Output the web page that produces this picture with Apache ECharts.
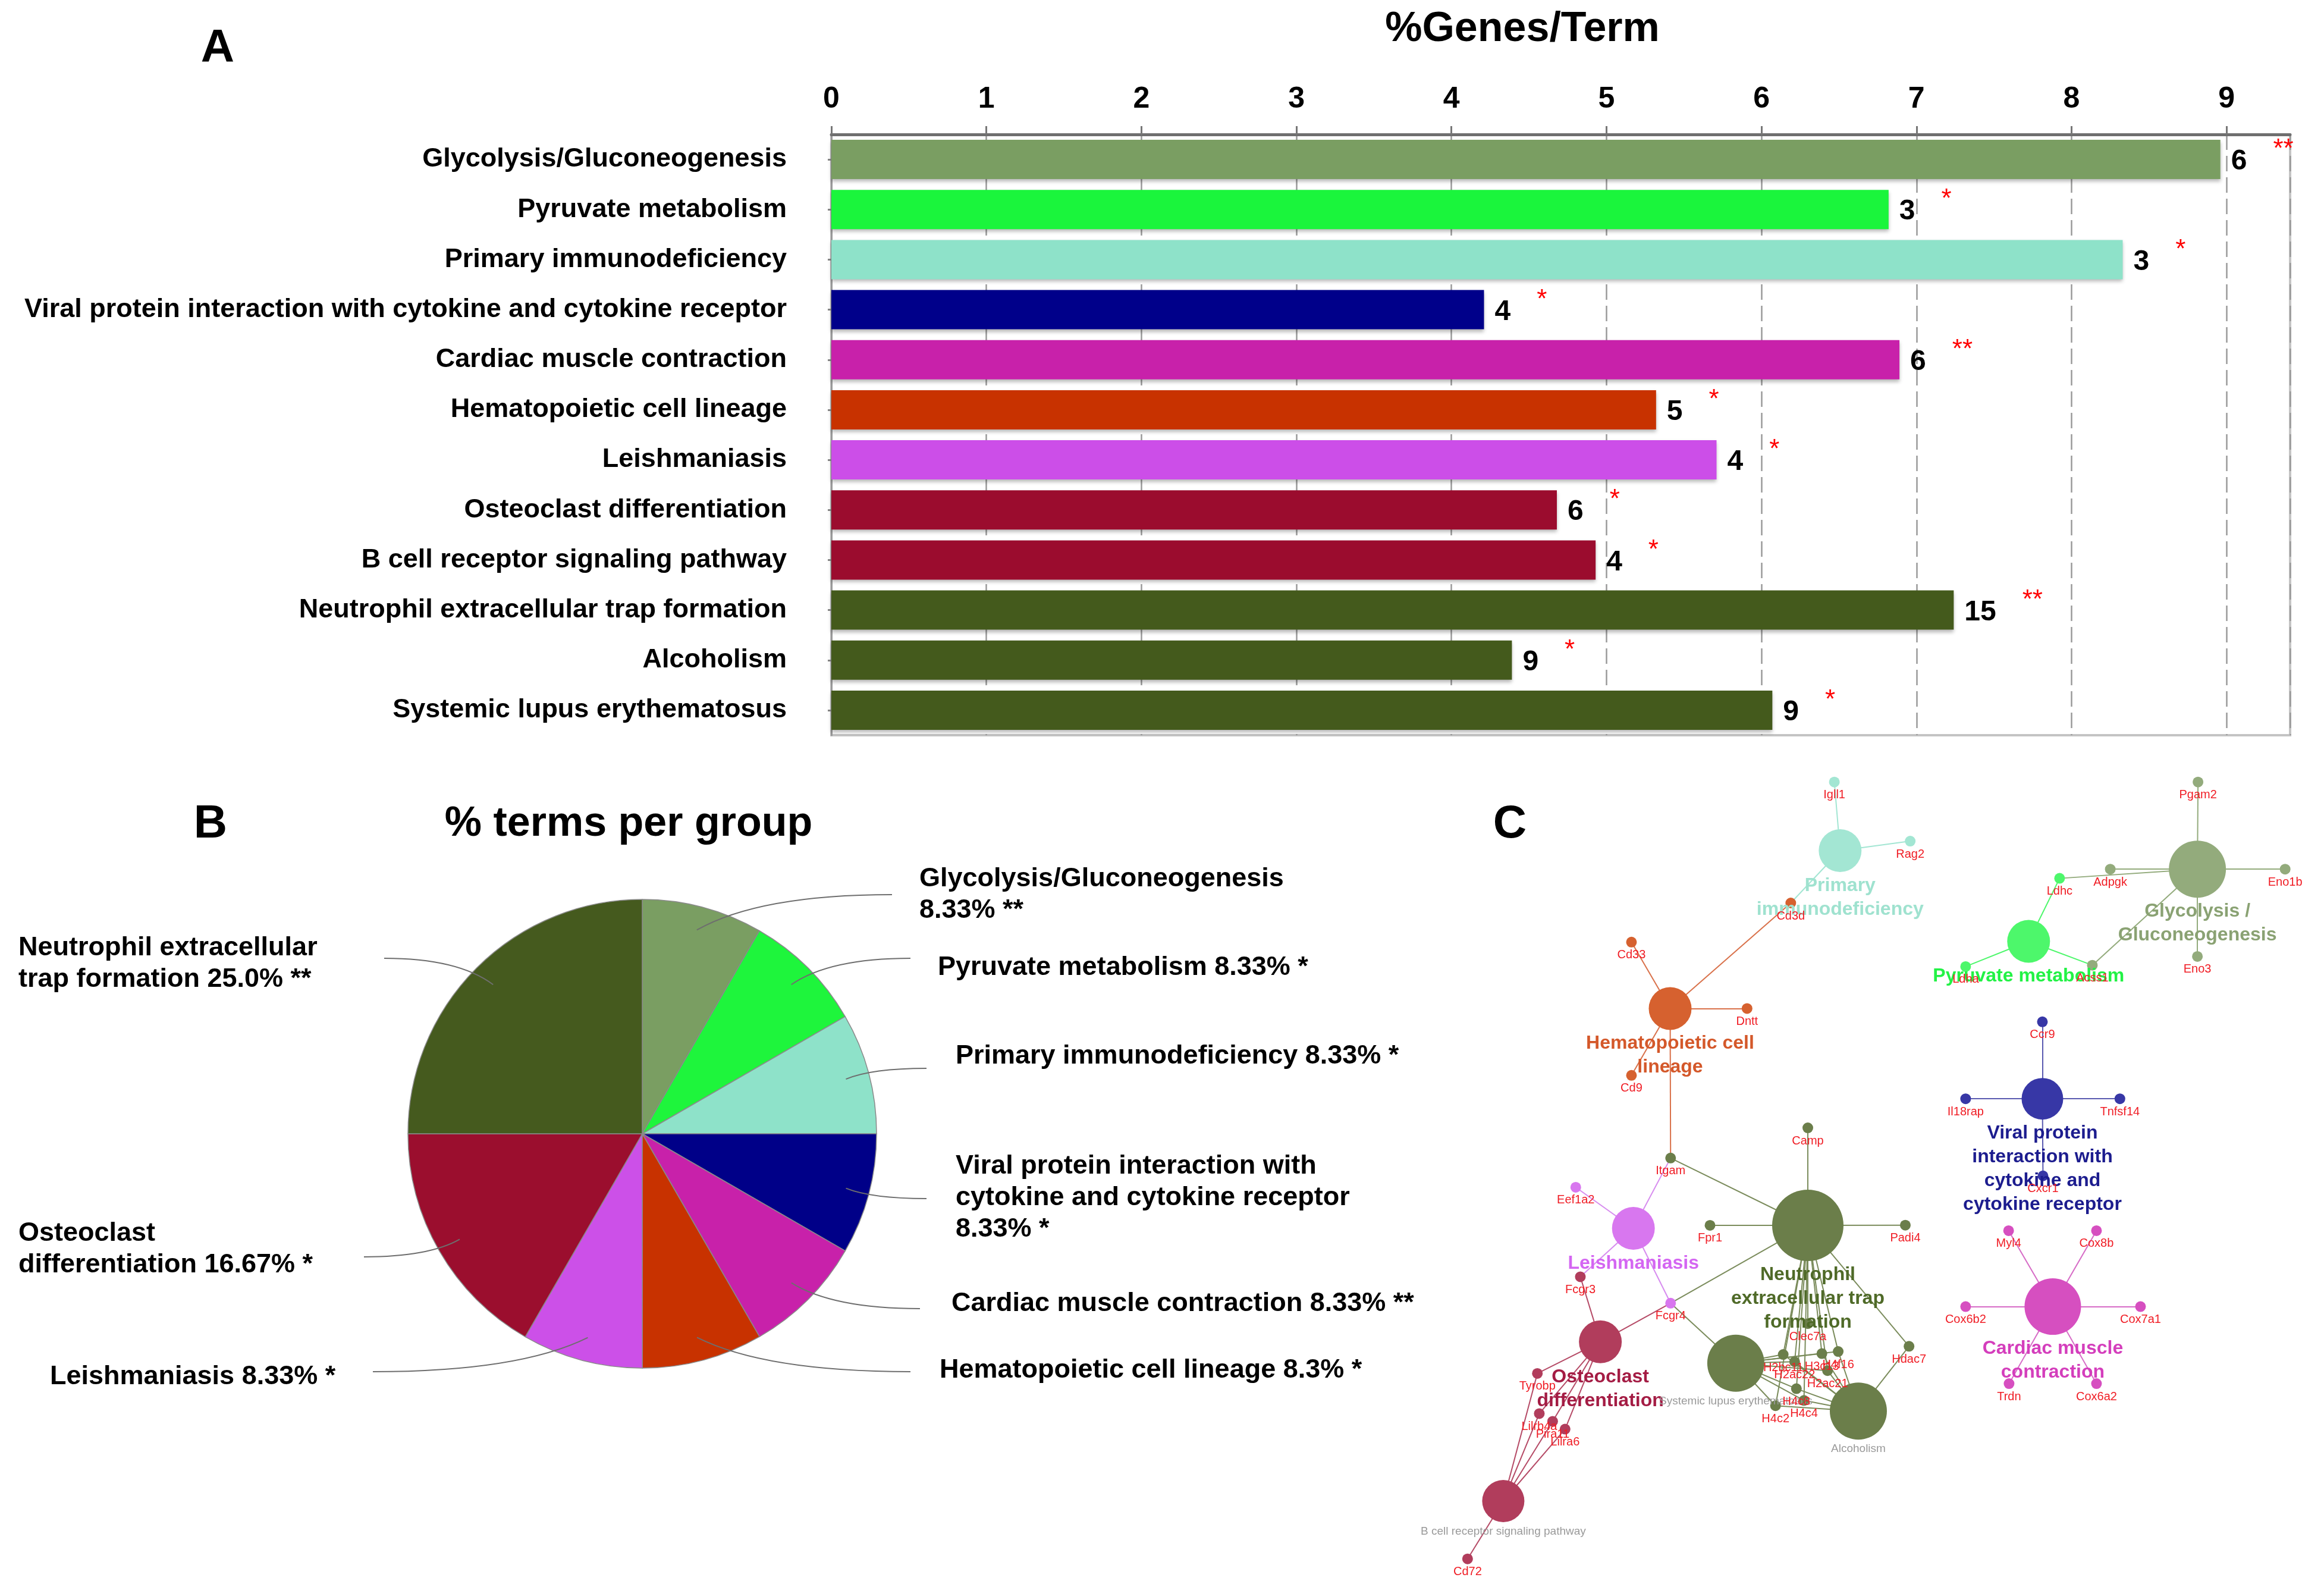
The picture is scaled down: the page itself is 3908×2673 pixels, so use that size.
<!DOCTYPE html>
<html><head><meta charset="utf-8">
<script src="https://cdn.jsdelivr.net/npm/echarts@6/dist/echarts.min.js"></script>
<style>html,body{margin:0;padding:0;background:#fff}#c{width:3908px;height:2673px}</style>
</head><body><div id="c"></div>
<script>
// ---------- Panel A data ----------
const termNames = ['Glycolysis/Gluconeogenesis','Pyruvate metabolism','Primary immunodeficiency','Viral protein interaction with cytokine and cytokine receptor','Cardiac muscle contraction','Hematopoietic cell lineage','Leishmaniasis','Osteoclast differentiation','B cell receptor signaling pathway','Neutrophil extracellular trap formation','Alcoholism','Systemic lupus erythematosus'];
const genesPerTerm = [8.96, 6.82, 8.33, 4.21, 6.89, 5.32, 5.71, 4.68, 4.93, 7.24, 4.39, 6.07];
const geneCounts = [6, 3, 3, 4, 6, 5, 4, 6, 4, 15, 9, 9];
const significance = ['**','*','*','*','**','*','*','*','*','**','*','*'];
const axisTitleA = '%Genes/Term';

// ---------- Panel B data ----------
const groupNames = ['Glycolysis/Gluconeogenesis','Pyruvate metabolism','Primary immunodeficiency','Viral protein interaction with cytokine and cytokine receptor','Cardiac muscle contraction','Hematopoietic cell lineage','Leishmaniasis','Osteoclast differentiation','Neutrophil extracellular trap formation'];
const groupPercent = [8.33, 8.33, 8.33, 8.33, 8.33, 8.33, 8.33, 16.67, 25.0];
const groupLabels = ['Glycolysis/Gluconeogenesis\n8.33% **','Pyruvate metabolism 8.33% *','Primary immunodeficiency 8.33% *','Viral protein interaction with\ncytokine and cytokine receptor\n8.33% *','Cardiac muscle contraction 8.33% **','Hematopoietic cell lineage 8.3% *','Leishmaniasis 8.33% *','Osteoclast\ndifferentiation 16.67% *','Neutrophil extracellular\ntrap formation 25.0% **'];
const titleB = '% terms per group';

// ---------- Panel C data (network; coordinates in the panel's own units) ----------
const netHubs = [
  ['prim','Primary\nimmunodeficiency',1241.5,573.8,'prim'],
  ['hemat','Hematopoietic cell\nlineage',1126.8,680.3,'hemat'],
  ['glyco','Glycolysis /\nGluconeogenesis',1482.6,586.3,'glyco'],
  ['pyr','Pyruvate metabolism',1368.7,635.0,'pyr'],
  ['viral','Viral protein\ninteraction with\ncytokine and\ncytokine receptor',1378.0,741.2,'viral'],
  ['cardiac','Cardiac muscle\ncontraction',1385.0,881.4,'cardiac'],
  ['neutro','Neutrophil\nextracellular trap\nformation',1219.7,826.6,'neutro'],
  ['leish','Leishmaniasis',1102.0,828.6,'leish'],
  ['osteo','Osteoclast\ndifferentiation',1079.7,905.2,'osteo'],
  ['sle','Systemic lupus erythematosus',1171.1,919.6,'neutro'],
  ['alc','Alcoholism',1253.8,951.9,'neutro'],
  ['bcell','B cell receptor signaling pathway',1014.2,1012.6,'osteo']
];
const netGenes = [
  ['Igll1',1237.6,527.5,'prim'],['Rag2',1288.8,567.4,'prim'],['Cd3d',1208.2,609.1,'hemat'],
  ['Cd33',1100.7,635.5,'hemat'],['Dntt',1178.7,680.3,'hemat'],['Cd9',1100.7,725.4,'hemat'],
  ['Itgam',1127.1,781.2,'neutro'],
  ['Pgam2',1483.0,527.5,'glyco'],['Eno1b',1541.8,586.3,'glyco'],['Eno3',1482.6,645.2,'glyco'],
  ['Adpgk',1423.8,586.3,'glyco'],['Ldhc',1389.6,592.5,'pyr'],['Ldha',1326.2,652.0,'pyr'],['Acss1',1411.7,651.1,'glyco'],
  ['Ccr9',1378.0,689.3,'viral'],['Il18rap',1326.2,741.2,'viral'],['Tnfsf14',1430.3,741.2,'viral'],['Cxcr1',1378.4,793.2,'viral'],
  ['Myl4',1355.2,830.2,'cardiac'],['Cox8b',1414.5,830.2,'cardiac'],['Cox6b2',1326.2,881.4,'cardiac'],
  ['Cox7a1',1444.2,881.4,'cardiac'],['Trdn',1355.5,933.4,'cardiac'],['Cox6a2',1414.5,933.4,'cardiac'],
  ['Camp',1219.7,760.8,'neutro'],['Fpr1',1153.7,826.6,'neutro'],['Padi4',1285.5,826.5,'neutro'],
  ['Hdac7',1288.0,908.2,'neutro'],['Clec7a',1219.7,892.9,'neutro'],
  ['H2bc11',1203.1,913.7,'neutro'],['H2ac22',1210.8,918.6,'neutro'],['H3c13',1229.2,913.1,'neutro'],
  ['H4f16',1240.2,911.7,'neutro'],['H2ac21',1233.0,924.6,'neutro'],['H4c8',1212.0,936.8,'neutro'],
  ['H4c4',1217.1,944.7,'neutro'],['H4c2',1197.9,948.3,'neutro'],
  ['Eef1a2',1063.1,800.9,'leish'],['Fcgr3',1066.2,861.3,'osteo'],['Fcgr4',1127.1,879.1,'leish'],
  ['Tyrobp',1037.2,926.5,'osteo'],['Lilrb4a',1038.5,953.6,'osteo'],['Pira11',1047.5,958.8,'osteo'],
  ['Lilra6',1055.9,964.1,'osteo'],['Cd72',990.1,1051.6,'osteo']
];
const histones = ['H2bc11','H2ac22','H3c13','H4f16','H2ac21','H4c8','H4c4','H4c2'];
const netLinks = [
  ['prim',['Igll1','Rag2','Cd3d']],
  ['hemat',['Cd3d','Cd33','Dntt','Cd9','Itgam']],
  ['glyco',['Pgam2','Eno1b','Eno3','Adpgk','Ldhc','Acss1']],
  ['pyr',['Ldhc','Ldha','Acss1']],
  ['viral',['Ccr9','Il18rap','Tnfsf14','Cxcr1']],
  ['cardiac',['Myl4','Cox8b','Cox6b2','Cox7a1','Trdn','Cox6a2']],
  ['neutro',['Camp','Fpr1','Padi4','Itgam','Fcgr4','Hdac7','Clec7a'].concat(histones)],
  ['leish',['Eef1a2','Itgam','Fcgr3','Fcgr4']],
  ['osteo',['Fcgr3','Fcgr4','Tyrobp','Lilrb4a','Pira11','Lilra6']],
  ['bcell',['Tyrobp','Lilrb4a','Pira11','Lilra6','Cd72']],
  ['sle',['Fcgr4'].concat(histones)],
  ['alc',['Hdac7'].concat(histones)]
];

// ---------- Styles ----------
const FONT = "'Liberation Sans', Arial, sans-serif";
const barColors = ['#7a9e62','#1af53c','#8ee2c9','#00008a','#c821aa','#c83200','#cc4ee8','#9b0c2e','#9b0c2e','#445a1c','#445a1c','#445a1c'];
const pieColors = ['#7a9e62','#1ef53c','#8ee2c9','#000088','#c821aa','#c83200','#cc50e8','#9b0e2e','#455a1e'];
const nodeColor = {prim:'#a3e6d3',hemat:'#d6612f',glyco:'#93ab7c',pyr:'#4df76b',viral:'#3737a6',cardiac:'#d64fc0',neutro:'#6b7e4a',leish:'#d877ef',osteo:'#b13d5c'};
const hubLabelColor = {prim:'#9fe2cf',hemat:'#d4582a',glyco:'#8aa273',pyr:'#22f245',viral:'#1c1c8e',cardiac:'#d43ebc',neutro:'#4f6a28',leish:'#d466f2',osteo:'#a41c44'};
const edgeColor = {prim:'#a3e6d3',hemat:'#d9714a',glyco:'#93ab7c',pyr:'#4df76b',viral:'#5a5ab0',cardiac:'#d66bc6',neutro:'#7b8c5c',leish:'#d78cef',osteo:'#b54a66'};
const hubSize = {prim:72,hemat:72,glyco:96,pyr:72,viral:70,cardiac:95,neutro:120,leish:72,osteo:72,sle:96,alc:96,bcell:71};
const grayHubs = ['sle','alc','bcell'];
// pie label layout (pixels)
const pieCenter = [1080, 1906], pieR = 394;
const pieLabelPos = [[1546,1504],[1577,1627],[1607,1776],[1607,2014],[1600,2192],[1580,2304],[84,2315],[31,2100],[31,1620]];
const pieLineEnd = [[1500,1504],[1531,1611],[1558,1796],[1558,2015],[1547,2200],[1531,2306],[627,2306],[612,2113],[646,1611]];

// ---------- Build ----------
const hubGroup = {};
netHubs.forEach(h => hubGroup[h[0]] = h[4]);
const nodes = [];
netHubs.forEach(h => {
  const gray = grayHubs.includes(h[0]);
  nodes.push({
    name: h[0], value: [h[2], h[3]], symbolSize: hubSize[h[0]],
    itemStyle: {color: nodeColor[h[4]]},
    label: {show: true, position: 'bottom', distance: gray ? 5 : 3, formatter: h[1],
      color: gray ? '#9a9a9a' : hubLabelColor[h[4]], fontSize: gray ? 19 : 32,
      fontWeight: gray ? 'normal' : 'bold', lineHeight: gray ? 22 : 40, fontFamily: FONT},
    z: 3
  });
});
netGenes.forEach(g => {
  nodes.push({
    name: g[0], value: [g[1], g[2]], symbolSize: 18,
    itemStyle: {color: nodeColor[g[3]]},
    label: {show: true, position: 'bottom', distance: 3, formatter: g[0], color: '#f01c24', fontSize: 20, fontFamily: FONT}
  });
});
const links = [];
netLinks.forEach(l => l[1].forEach(t => links.push({source: l[0], target: t, lineStyle: {color: edgeColor[hubGroup[l[0]]]}})));

const pieTotal = groupPercent.reduce((a,b)=>a+b,0);
function midAngle(i){
  let cum = 0; for (let k=0;k<i;k++) cum += groupPercent[k];
  return (90 - 360*(cum + groupPercent[i]/2)/pieTotal) * Math.PI/180;
}

const chart = echarts.init(document.getElementById('c'), null, {renderer:'canvas'});
chart.setOption({
  animation: false,
  backgroundColor: '#fff',
  textStyle: {fontFamily: FONT},
  graphic: [
    {type:'text', x:366, y:82, style:{text:'A', fontSize:78, fontWeight:'bold', fontFamily:FONT, fill:'#000', align:'center', verticalAlign:'middle'}},
    {type:'text', x:2560, y:50, style:{text:axisTitleA, fontSize:70, fontWeight:'bold', fontFamily:FONT, fill:'#000', align:'center', verticalAlign:'middle'}},
    {type:'text', x:354, y:1386, style:{text:'B', fontSize:78, fontWeight:'bold', fontFamily:FONT, fill:'#000', align:'center', verticalAlign:'middle'}},
    {type:'text', x:1057, y:1386, style:{text:titleB, fontSize:70, fontWeight:'bold', fontFamily:FONT, fill:'#000', align:'center', verticalAlign:'middle'}},
    {type:'text', x:2539, y:1386, style:{text:'C', fontSize:78, fontWeight:'bold', fontFamily:FONT, fill:'#000', align:'center', verticalAlign:'middle'}}
  ],
  grid: [
    {left:1398, top:226, width:2453, height:1010, show:true, borderColor:'#c4c4c4', borderWidth:4},
    {left:2343, top:1283.5, width:1545, height:1388, show:false}
  ],
  xAxis: [
    {gridIndex:0, type:'value', position:'top', min:0, max:9.41, interval:1,
     axisLabel:{fontSize:50, fontWeight:'bold', color:'#000', margin:34, showMaxLabel:false, fontFamily:FONT},
     axisLine:{show:true, lineStyle:{color:'#6f6f6f', width:5}},
     axisTick:{show:true, length:14, lineStyle:{color:'#777', width:3}},
     splitLine:{show:true, lineStyle:{color:'#9a9a9a', width:2.5, type:[26,10]}}},
    {gridIndex:1, type:'value', min:940, max:1560, show:false}
  ],
  yAxis: [
    {gridIndex:0, type:'category', data:termNames, inverse:true,
     axisLabel:{fontSize:45, fontWeight:'bold', color:'#000', margin:75, fontFamily:FONT},
     axisLine:{show:true, lineStyle:{color:'#9a9a9a', width:3}},
     axisTick:{show:true, alignWithLabel:true, length:6, lineStyle:{color:'#888', width:3}},
     splitLine:{show:false}},
    {gridIndex:1, type:'value', min:515, max:1072, inverse:true, show:false}
  ],
  series: [
    {type:'bar', xAxisIndex:0, yAxisIndex:0, barWidth:66,
     data: genesPerTerm.map((v,i)=>({value:v, itemStyle:{color:barColors[i], shadowColor:'rgba(0,0,0,0.28)', shadowBlur:6, shadowOffsetY:4}})),
     label:{show:true, position:'right', distance:18, offset:[0,4],
       formatter: p => '{n|' + geneCounts[p.dataIndex] + '}{s|' + significance[p.dataIndex] + '}',
       rich:{
         n:{fontSize:48, fontWeight:'bold', color:'#000', lineHeight:84, fontFamily:FONT},
         s:{fontSize:44, color:'#ff0000', padding:[0,0,0,44], verticalAlign:'top', fontFamily:FONT}
       }}
    },
    {type:'pie', center:pieCenter, radius:pieR, startAngle:90, clockwise:true, z:2,
     data: groupNames.map((n,i)=>({name:n, value:groupPercent[i], itemStyle:{color:pieColors[i]}})),
     itemStyle:{borderColor:'#8a8a8a', borderWidth:1.5},
     label:{show:true, position:'outside', formatter: p => groupLabels[p.dataIndex],
       fontSize:45, fontWeight:'bold', color:'#000', lineHeight:53, fontFamily:FONT, align:'left'},
     labelLine:{show:false},
     labelLayout: function(params){
       const i = params.dataIndex;
       return {x: pieLabelPos[i][0], y: pieLabelPos[i][1], align:'left', verticalAlign:'middle'};
     }
    },
    // leader lines of the pie, derived from each slice's mid angle
    {type:'custom', coordinateSystem:'none', z:5, silent:true,
     data: groupPercent,
     renderItem: function(params){
       const i = params.dataIndex;
       const a = midAngle(i);
       const sx = pieCenter[0] + 0.9*pieR*Math.cos(a), sy = pieCenter[1] - 0.9*pieR*Math.sin(a);
       const ex = pieLineEnd[i][0], ey = pieLineEnd[i][1];
       return {type:'bezierCurve',
         shape:{x1:sx, y1:sy, x2:ex, y2:ey, cpx1: sx + (ex - sx)*0.32, cpy1: ey},
         style:{stroke:'#6e6e6e', lineWidth:2, fill:null}};
     }
    },
    {type:'graph', coordinateSystem:'cartesian2d', xAxisIndex:1, yAxisIndex:1, layout:'none',
     data: nodes, links: links, roam:false, edgeSymbol:['none','none'],
     lineStyle:{width:2, opacity:1, curveness:0},
     emphasis:{disabled:true}
    }
  ]
});
</script>
</body></html>
